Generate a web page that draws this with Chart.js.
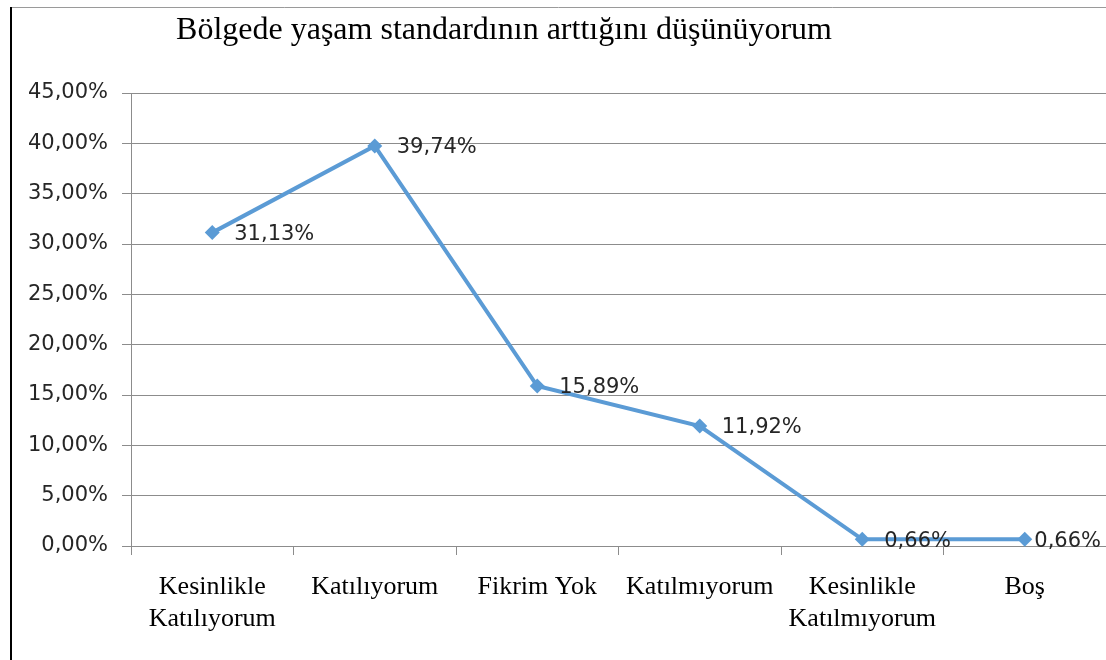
<!DOCTYPE html>
<html lang="tr">
<head>
<meta charset="utf-8">
<script src="https://cdn.jsdelivr.net/npm/chart.js@4/dist/chart.umd.min.js"></script>
<style>
  html, body { margin: 0; padding: 0; background: #fff; overflow: hidden; }
  #kutu { width: 1106px; height: 660px; position: relative; }
  canvas { display: block; }
</style>
</head>
<body>
<div id="kutu"><canvas id="grafik"></canvas></div>
<script>
const baslik = 'Bölgede yaşam standardının arttığını düşünüyorum';
const kategoriler = [
  ['Kesinlikle', 'Katılıyorum'],
  'Katılıyorum',
  'Fikrim Yok',
  'Katılmıyorum',
  ['Kesinlikle', 'Katılmıyorum'],
  'Boş'
];
const oranlar = [31.13, 39.74, 15.89, 11.92, 0.66, 0.66];
const etiketler = ['31,13%', '39,74%', '15,89%', '11,92%', '0,66%', '0,66%'];

const cerceveVeBaslik = {
  id: 'cerceveVeBaslik',
  beforeDraw(chart) {
    const c = chart.ctx;
    c.save();
    c.fillStyle = '#fff';
    c.fillRect(0, 0, chart.width, chart.height);
    c.strokeStyle = '#9a9a9a';
    c.lineWidth = 1;
    c.beginPath();
    c.moveTo(11, 7.5);
    c.lineTo(chart.width, 7.5);
    c.stroke();
    c.strokeStyle = '#000';
    c.lineWidth = 2;
    c.beginPath();
    c.moveTo(11, 7);
    c.lineTo(11, chart.height);
    c.stroke();
    c.fillStyle = '#000';
    c.font = '32px "Liberation Serif", serif';
    c.textAlign = 'center';
    c.textBaseline = 'middle';
    c.fillText(baslik, 504, 31);
    c.restore();
  }
};

// etiket noktanın sağında; sığmazsa kenara yaslanır
const degerEtiketleri = {
  id: 'degerEtiketleri',
  afterDatasetsDraw(chart) {
    const c = chart.ctx;
    const meta = chart.getDatasetMeta(0);
    c.save();
    c.fillStyle = '#262626';
    c.font = '21px "DejaVu Sans", sans-serif';
    c.textAlign = 'left';
    c.textBaseline = 'middle';
    meta.data.forEach((p, i) => {
      const w = c.measureText(etiketler[i]).width;
      const x = Math.min(p.x + 22, chart.width - w - 5);
      c.fillText(etiketler[i], x, p.y + 2);
    });
    c.restore();
  }
};

new Chart(document.getElementById('grafik').getContext('2d'), {
  type: 'line',
  data: {
    labels: kategoriler,
    datasets: [{
      data: oranlar,
      borderColor: '#5B9BD5',
      backgroundColor: '#5B9BD5',
      borderWidth: 4,
      tension: 0,
      fill: false,
      clip: false,
      pointStyle: 'rectRot',
      pointRadius: 7.5,
      pointBorderWidth: 0
    }]
  },
  options: {
    responsive: true,
    maintainAspectRatio: false,
    animation: false,
    layout: { autoPadding: false, padding: { top: 93, left: 0, right: 0, bottom: 0 } },
    plugins: {
      legend: { display: false },
      tooltip: { enabled: false }
    },
    scales: {
      x: {
        offset: true,
        afterFit(axis) { axis.height = 114; },
        grid: {
          offset: true,
          drawOnChartArea: false,
          drawTicks: true,
          tickLength: 9,
          color: '#8c8c8c'
        },
        border: { color: '#8c8c8c', width: 1 },
        ticks: {
          color: '#000',
          padding: 17,
          maxRotation: 0,
          autoSkip: false,
          font: { family: '"Liberation Serif", serif', size: 26, lineHeight: 1.2 }
        }
      },
      y: {
        min: 0,
        max: 45,
        afterFit(axis) { axis.width = 131; },
        grid: {
          color: '#8c8c8c',
          tickLength: 9
        },
        border: { color: '#8c8c8c', width: 1 },
        ticks: {
          stepSize: 5,
          padding: 14,
          color: '#262626',
          font: { family: '"DejaVu Sans", sans-serif', size: 21 },
          callback: v => v.toFixed(2).replace('.', ',') + '%'
        }
      }
    }
  },
  plugins: [cerceveVeBaslik, degerEtiketleri]
});
</script>
</body>
</html>
